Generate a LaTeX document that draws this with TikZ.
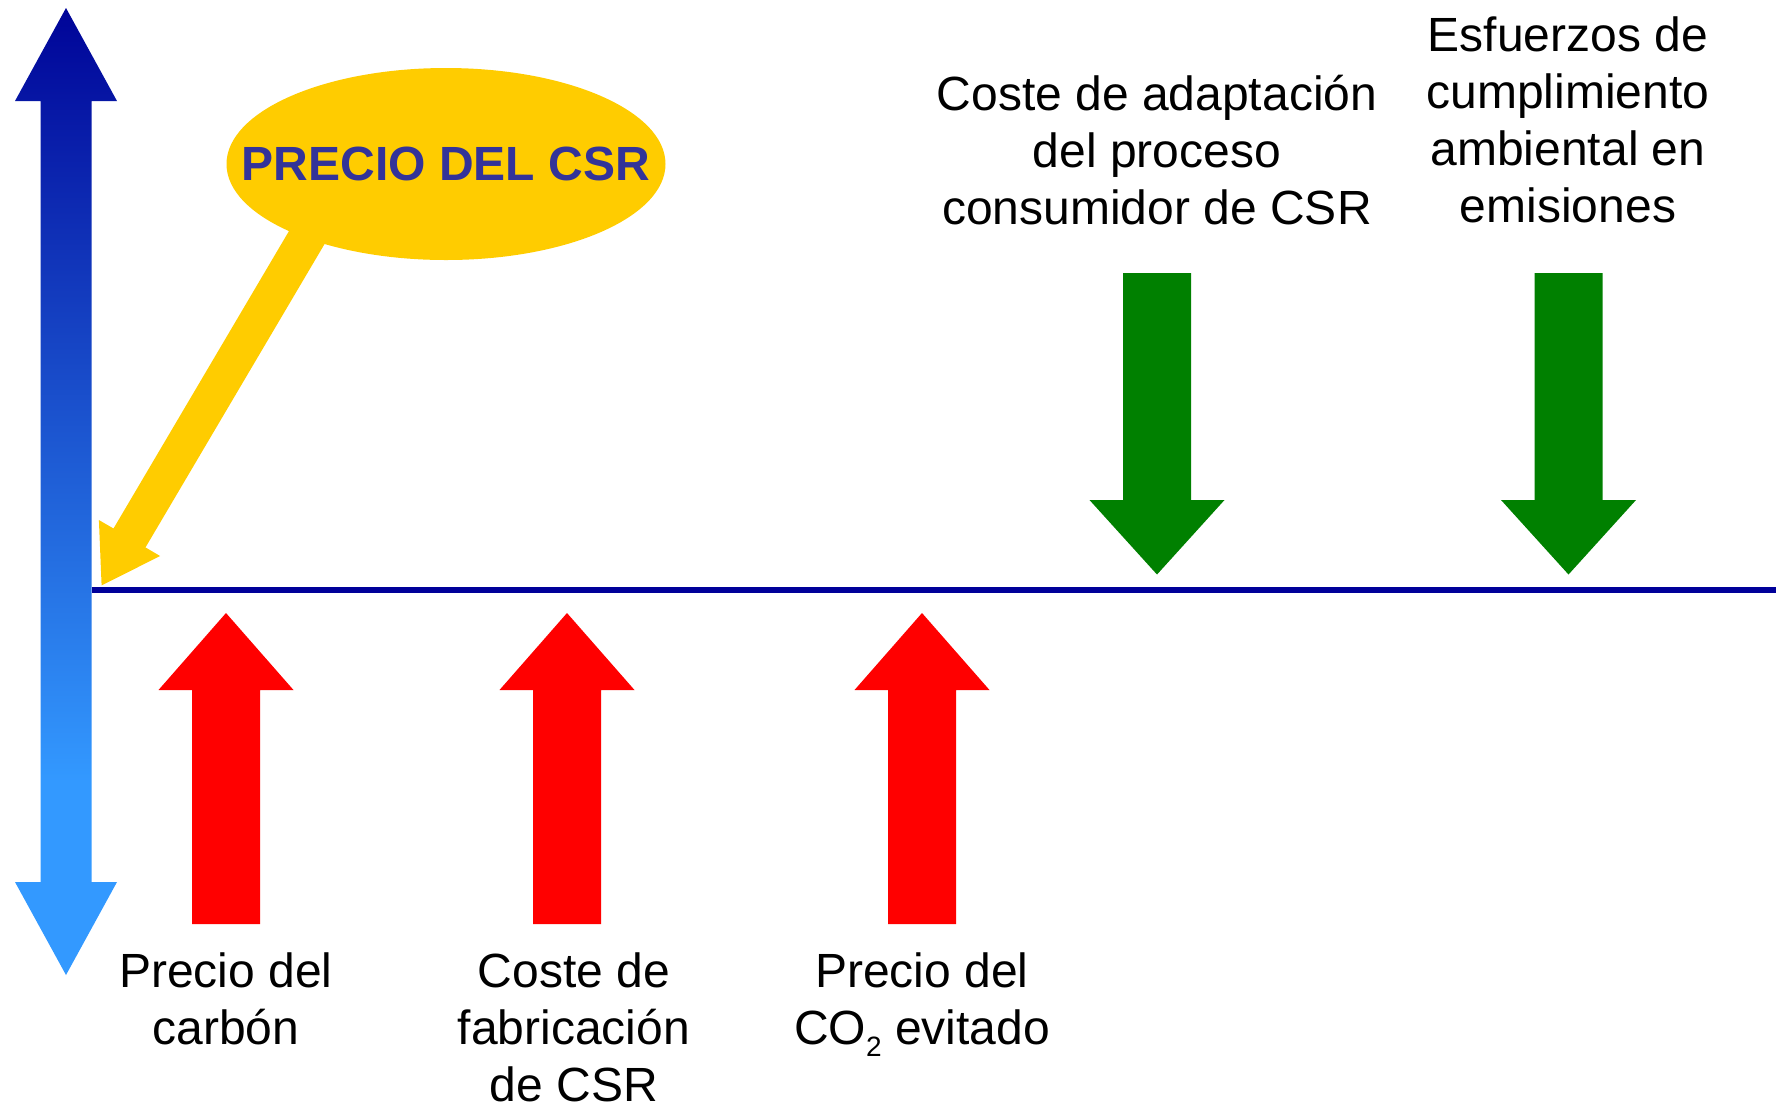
\documentclass[tikz,border=0pt]{standalone}
\usepackage{fontspec}
\setmainfont{Liberation Sans}
\usetikzlibrary{positioning}
\tikzset{>=stealth}

\definecolor{csrgold}{RGB}{255,204,0}
\definecolor{csrtext}{RGB}{51,51,153}
\definecolor{axisnavy}{RGB}{0,0,153}
\definecolor{topblue}{RGB}{0,4,152}
\definecolor{lowblue}{RGB}{51,153,255}
\definecolor{costred}{RGB}{255,0,0}
\definecolor{effgreen}{RGB}{0,128,0}

\pgfdeclareverticalshading{axisfade}{100bp}{color(0bp)=(lowblue); color(35bp)=(lowblue); color(75bp)=(topblue); color(100bp)=(topblue)}

\newcommand{\subtwo}{\raisebox{-6pt}{\fontsize{14pt}{14pt}\selectfont 2}}

\tikzset{
  lbl/.style={font=\fontsize{24pt}{28.5pt}\selectfont, align=center, anchor=base, inner sep=0pt},
  bubble/.style={text=csrtext, inner sep=0pt, font=\fontsize{24pt}{28.5pt}\selectfont\bfseries}
}

\begin{document}
\begin{tikzpicture}[x=0.5pt,y=-0.5pt]
        \useasboundingbox (0,0) rectangle (1776,1105);
        % price axis
        \shade[shading=axisfade] (66,8)--(117,101)--(91.5,101)--(91.5,882)--(117,882)--(66,975)--(15,882)--(40.5,882)--(40.5,101)--(15,101)--cycle;
        \coordinate (origin) at (91.5,590);
        \coordinate (axisend) at (1776,590);
        \draw [axisnavy, line width=2.75pt](origin)--(axisend);

        % costs pushing the price up
        \foreach \cx in {226,567,922}
            \fill [costred] (\cx-34,924)--(\cx-34,690)--(\cx-67.5,690)--(\cx,613)--(\cx+67.5,690)--(\cx+34,690)--(\cx+34,924)--cycle;
        % efforts pushing it down
        \foreach \cx in {1157,1568.5}
            \fill [effgreen] (\cx-34,273)--(\cx-34,500)--(\cx-67.5,500)--(\cx,574.5)--(\cx+67.5,500)--(\cx+34,500)--(\cx+34,273)--cycle;

        % the price bubble
        \fill [csrgold] (296.4,218.5)--(113.5,528.5)--(98.9,520)--(101.6,585.4)--(160.1,556)--(145.5,547.4)--(328.4,237.5)--cycle;
        \fill [csrgold] (446,164) ellipse [x radius=109.75pt, y radius=48pt];
        \node [bubble] (precio) at (446,164) {PRECIO DEL CSR};

        \node [lbl] (carbon) at (226,1044) {Precio del\\carbón};
        \node [lbl] (fabricacion) at (574,1101) {Coste de\\fabricación\\de CSR};
        \node [lbl] (evitado) at (922,1044) {Precio del\\CO\subtwo{} evitado};
        \node [lbl] (adaptacion) at (1157,224) {Coste de adaptación\\del proceso\\consumidor de CSR};
        \node [lbl] (esfuerzos) at (1568,222) {Esfuerzos de\\cumplimiento\\ambiental en\\emisiones};
\end{tikzpicture}
\end{document}
